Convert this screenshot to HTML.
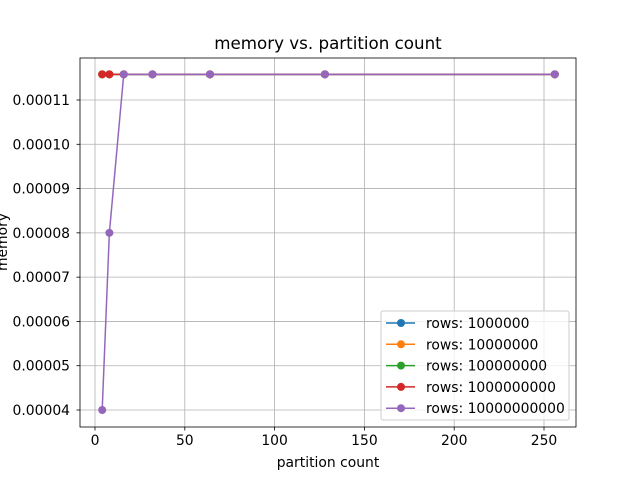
<!DOCTYPE html>
<html><head><meta charset="utf-8"><style>body{margin:0;background:#fff}svg{display:block;font-family:"DejaVu Sans","Liberation Sans",sans-serif}</style></head>
<body>
<svg id="c" width="640" height="480" xmlns="http://www.w3.org/2000/svg"></svg>
<script>
const xValues=[4,8,16,32,64,128,256];
const seriesNames=["rows: 1000000","rows: 10000000","rows: 100000000","rows: 1000000000","rows: 10000000000"];
const s1=[0.0001158,0.0001158,0.0001158,0.0001158,0.0001158,0.0001158,0.0001158];
const s2=[0.0001158,0.0001158,0.0001158,0.0001158,0.0001158,0.0001158,0.0001158];
const s3=[0.0001158,0.0001158,0.0001158,0.0001158,0.0001158,0.0001158,0.0001158];
const s4=[0.0001158,0.0001158,0.0001158,0.0001158,0.0001158,0.0001158,0.0001158];
const s5=[0.00004,0.00008,0.0001158,0.0001158,0.0001158,0.0001158,0.0001158];
const xTicks=[0,50,100,150,200,250];
const yTicks=[0.00004,0.00005,0.00006,0.00007,0.00008,0.00009,0.00010,0.00011];
const yTickLabels=["0.00004","0.00005","0.00006","0.00007","0.00008","0.00009","0.00010","0.00011"];
const colors=["#1f77b4","#ff7f0e","#2ca02c","#d62728","#9467bd"];
const L=80,R=576,T=58,B=427;
const sx=v=>95+v*(544-95)/250;
const sy=v=>410-(v-0.00004)*(310/0.00007);
const svg=document.getElementById('c');const NS="http://www.w3.org/2000/svg";
function mk(t,a,txt){const e=document.createElementNS(NS,t);for(const k in a)e.setAttribute(k,a[k]);if(txt!==undefined)e.textContent=txt;svg.appendChild(e);return e;}
xTicks.forEach(v=>{const x=sx(v);
const g=mk('line',{x1:x,x2:x,y1:T,y2:B,stroke:'#b0b0b0','stroke-width':0.8});


mk('line',{x1:x,x2:x,y1:B,y2:B+3.5,stroke:'#000','stroke-width':0.8});
const t=mk('text',{x:x,y:B+18,'text-anchor':'middle','font-size':13.9},String(v));

});
yTicks.forEach((v,i)=>{const y=sy(v);
const g=mk('line',{x1:L,x2:R,y1:y,y2:y,stroke:'#b0b0b0','stroke-width':0.8});


mk('line',{x1:L-3.5,x2:L,y1:y,y2:y,stroke:'#000','stroke-width':0.8});
const t=mk('text',{x:L-10,y:y+5,'text-anchor':'end','font-size':13.9},yTickLabels[i]);

});
[s1,s2,s3,s4,s5].forEach((s,i)=>{
const p=mk('polyline',{points:xValues.map((x,j)=>sx(x)+','+sy(s[j])).join(' '),fill:'none',stroke:colors[i],'stroke-width':1.5});


xValues.forEach((x,j)=>{const c=mk('circle',{cx:sx(x),cy:sy(s[j]),r:4,fill:colors[i]});

});});
const f=mk('rect',{x:L,y:T,width:R-L,height:B-T,fill:'none',stroke:'#000','stroke-width':0.8});


const ti=mk('text',{x:328,y:49,'text-anchor':'middle','font-size':16.7},'memory vs. partition count');


const xl=mk('text',{x:328,y:467,'text-anchor':'middle','font-size':13.9},'partition count');


const yl=mk('text',{x:0,y:0,'text-anchor':'middle','font-size':13.9,transform:'translate(7,242) rotate(-90)'},'memory');


const lg=mk('rect',{x:381,y:311,width:188,height:109,fill:'#fff','fill-opacity':0.8,stroke:'#ccc',rx:2});


seriesNames.forEach((n,i)=>{const y=323+i*21.3;
mk('line',{x1:386,x2:415,y1:y,y2:y,stroke:colors[i],'stroke-width':1.5});
mk('circle',{cx:401,cy:y,r:4,fill:colors[i]});
const t=mk('text',{x:426,y:y+5,'font-size':13.9},n);

});
</script>
</body></html>
